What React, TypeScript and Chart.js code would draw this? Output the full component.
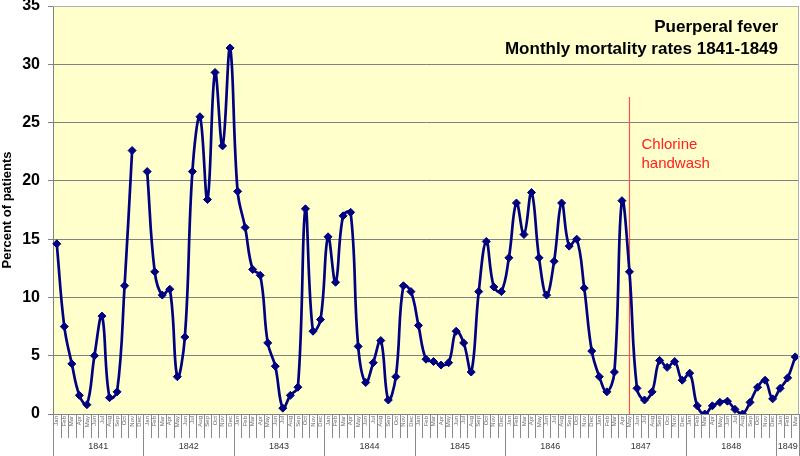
import React, { useEffect, useRef } from 'react';
import { Chart, registerables } from 'chart.js';

Chart.register(...registerables);

const MONTHS = ['Jan', 'Feb', 'Mar', 'Apr', 'May', 'Jun', 'Jul', 'Aug', 'Sep', 'Oct', 'Nov', 'Dec'];
const YEARS = ['1841', '1842', '1843', '1844', '1845', '1846', '1847', '1848', '1849'];

// Monthly mortality rate (percent of patients), First Clinic
const rates1841 = [14.6, 7.5, 4.3, 1.6, 0.8, 5.0, 8.4, 1.4, 1.9, 11.0, 22.6, null];
const rates1842 = [20.8, 12.2, 10.2, 10.7, 3.2, 6.6, 20.8, 25.5, 18.4, 29.3, 23.0, 31.4];
const rates1843 = [19.1, 16.0, 12.4, 11.9, 6.1, 4.1, 0.5, 1.6, 2.3, 17.6, 7.1, 8.1];
const rates1844 = [15.2, 11.3, 17.0, 17.3, 5.8, 2.7, 4.4, 6.3, 1.2, 3.2, 11.0, 10.5];
const rates1845 = [7.6, 4.7, 4.5, 4.2, 4.4, 7.1, 6.1, 3.6, 10.5, 14.8, 10.9, 10.5];
const rates1846 = [13.4, 18.1, 15.4, 19.0, 13.4, 10.2, 13.1, 18.1, 14.4, 15.0, 10.8, 5.4];
const rates1847 = [3.2, 1.9, 3.6, 18.3, 12.2, 2.2, 1.2, 1.9, 4.6, 4.0, 4.5, 2.9];
const rates1848 = [3.5, 0.7, 0.0, 0.7, 1.0, 1.1, 0.4, 0.0, 1.0, 2.3, 2.9, 1.3];
const rates1849 = [2.2, 3.1, 4.9];

const RATES_BY_YEAR = [rates1841, rates1842, rates1843, rates1844, rates1845, rates1846, rates1847, rates1848, rates1849];

const Y_TICKS_MIN = 0;
const Y_TICKS_MAX = 35;
const Y_TICKS_STEP = 5;

const TITLE_LINES = ['Puerperal fever', 'Monthly mortality rates 1841-1849'];
const Y_TITLE = 'Percent of patients';
const ANNOTATION_LINES = ['Chlorine', 'handwash'];
const HANDWASH_YEAR = '1847';
const HANDWASH_MONTH = 'May';
const HANDWASH_LINE_TOP = 27.2;

// Build category labels and flat data from the per-year arrays
const monthLabels: string[] = [];
const yearOfIndex: string[] = [];
const values: (number | null)[] = [];
RATES_BY_YEAR.forEach((arr, yi) => {
  arr.forEach((v, mi) => {
    monthLabels.push(MONTHS[mi]);
    yearOfIndex.push(YEARS[yi]);
    values.push(v);
  });
});
const handwashIndex = yearOfIndex.findIndex((y, i) => y === HANDWASH_YEAR && monthLabels[i] === HANDWASH_MONTH);

const FONT = 'Arial, "Liberation Sans", sans-serif';

const decorPlugin = {
  id: 'decor',
  beforeDraw(chart: any) {
    const { ctx, chartArea } = chart;
    ctx.save();
    ctx.fillStyle = '#FFFFCC';
    ctx.fillRect(chartArea.left, chartArea.top, chartArea.right - chartArea.left, chartArea.bottom - chartArea.top);
    ctx.restore();
  },
  beforeDatasetsDraw(chart: any) {
    // handwash line drawn beneath the data line
    const { ctx, chartArea, scales } = chart;
    const hx = Math.round(scales.x.getPixelForValue(handwashIndex)) + 0.5;
    ctx.save();
    ctx.strokeStyle = '#FF5050';
    ctx.lineWidth = 1.2;
    ctx.beginPath();
    ctx.moveTo(hx, scales.y.getPixelForValue(HANDWASH_LINE_TOP));
    ctx.lineTo(hx, chartArea.bottom);
    ctx.stroke();
    ctx.restore();
  },
  afterDraw(chart: any) {
    const { ctx, chartArea, scales } = chart;
    const { left, right, top, bottom } = chartArea;
    const x = scales.x;
    const h = chart.height;
    ctx.save();

    // plot border (top and right)
    ctx.strokeStyle = '#B0B0B0';
    ctx.lineWidth = 1;
    ctx.beginPath();
    ctx.moveTo(left, top + 0.5);
    ctx.lineTo(right - 0.5, top + 0.5);
    ctx.lineTo(right - 0.5, bottom);
    ctx.stroke();

    // month separators and year separators
    const n = monthLabels.length;
    const w = x.getPixelForValue(1) - x.getPixelForValue(0);
    ctx.strokeStyle = '#8A8A8A';
    for (let i = 0; i <= n; i++) {
      const bx = Math.round((i < n ? x.getPixelForValue(i) : x.getPixelForValue(n - 1) + w) - w / 2) + 0.5;
      const isYear = i === 0 || i === n || yearOfIndex[i] !== yearOfIndex[i - 1];
      ctx.beginPath();
      ctx.moveTo(bx, bottom);
      ctx.lineTo(bx, isYear ? h : bottom + 24);
      ctx.stroke();
    }

    // month labels (rotated)
    ctx.fillStyle = '#666666';
    ctx.font = `6px ${FONT}`;
    ctx.textAlign = 'right';
    ctx.textBaseline = 'middle';
    for (let i = 0; i < n; i++) {
      const px = x.getPixelForValue(i);
      ctx.save();
      ctx.translate(px, bottom + 2);
      ctx.rotate(-Math.PI / 2);
      ctx.fillText(monthLabels[i], 0, 0);
      ctx.restore();
    }

    // year labels
    ctx.fillStyle = '#333333';
    ctx.font = `9px ${FONT}`;
    ctx.textAlign = 'center';
    ctx.textBaseline = 'middle';
    YEARS.forEach((yr) => {
      const first = yearOfIndex.indexOf(yr);
      const last = yearOfIndex.lastIndexOf(yr);
      const cx = (x.getPixelForValue(first) + x.getPixelForValue(last)) / 2;
      ctx.fillText(yr, cx, bottom + 33);
    });

    // annotation text
    const hx = Math.round(x.getPixelForValue(handwashIndex)) + 0.5;
    ctx.fillStyle = '#FF2020';
    ctx.font = `15px ${FONT}`;
    ctx.textAlign = 'left';
    ctx.textBaseline = 'middle';
    ctx.fillText(ANNOTATION_LINES[0], hx + 12, top + 139);
    ctx.fillText(ANNOTATION_LINES[1], hx + 12, top + 158);

    // title
    ctx.fillStyle = '#000000';
    ctx.font = `bold 17px ${FONT}`;
    ctx.textAlign = 'right';
    ctx.fillText(TITLE_LINES[0], right - 21, top + 21);
    ctx.fillText(TITLE_LINES[1], right - 21, top + 43);

    ctx.restore();
  },
};

export default function App() {
  const canvasRef = useRef<HTMLCanvasElement | null>(null);

  useEffect(() => {
    if (!canvasRef.current) return;
    const chart = new Chart(canvasRef.current, {
      type: 'line',
      data: {
        labels: monthLabels,
        datasets: [
          {
            data: values,
            borderColor: '#000080',
            backgroundColor: '#000080',
            borderWidth: 2.7,
            pointStyle: 'rectRot',
            pointRadius: 4,
            pointBorderWidth: 1,
            tension: 0.4,
            spanGaps: false,
          },
        ],
      },
      options: {
        animation: false,
        responsive: true,
        maintainAspectRatio: false,
        layout: { autoPadding: false, padding: { top: 6, right: 1, left: 0, bottom: 0 } },
        plugins: {
          legend: { display: false },
          tooltip: { enabled: false },
          title: { display: false },
        },
        scales: {
          x: {
            type: 'category',
            offset: true,
            grid: { display: false, drawTicks: false },
            border: { display: true, color: '#808080', width: 1 },
            ticks: { display: false, autoSkip: false },
            afterFit(scale: any) {
              scale.height = 42;
              scale.paddingLeft = 0;
              scale.paddingRight = 0;
            },
          },
          y: {
            min: Y_TICKS_MIN,
            max: Y_TICKS_MAX,
            ticks: {
              stepSize: Y_TICKS_STEP,
              padding: 8,
              color: '#000000',
              font: { family: FONT, size: 16, weight: 'bold' },
            },
            grid: { color: '#808080', tickLength: 5, drawTicks: true },
            border: { display: true, color: '#808080', width: 1 },
            title: {
              display: true,
              text: Y_TITLE,
              color: '#000000',
              padding: { top: 0, bottom: 0 },
              font: { family: FONT, size: 13, weight: 'bold' },
            },
            afterFit(scale: any) {
              scale.width = 53;
              scale.paddingTop = 0;
              scale.paddingBottom = 0;
            },
          },
        },
      },
      plugins: [decorPlugin],
    });
    return () => chart.destroy();
  }, []);

  return (
    <div style={{ position: 'fixed', left: 0, top: 0, width: 800, height: 456, background: '#ffffff' }}>
      <canvas ref={canvasRef} />
    </div>
  );
}
